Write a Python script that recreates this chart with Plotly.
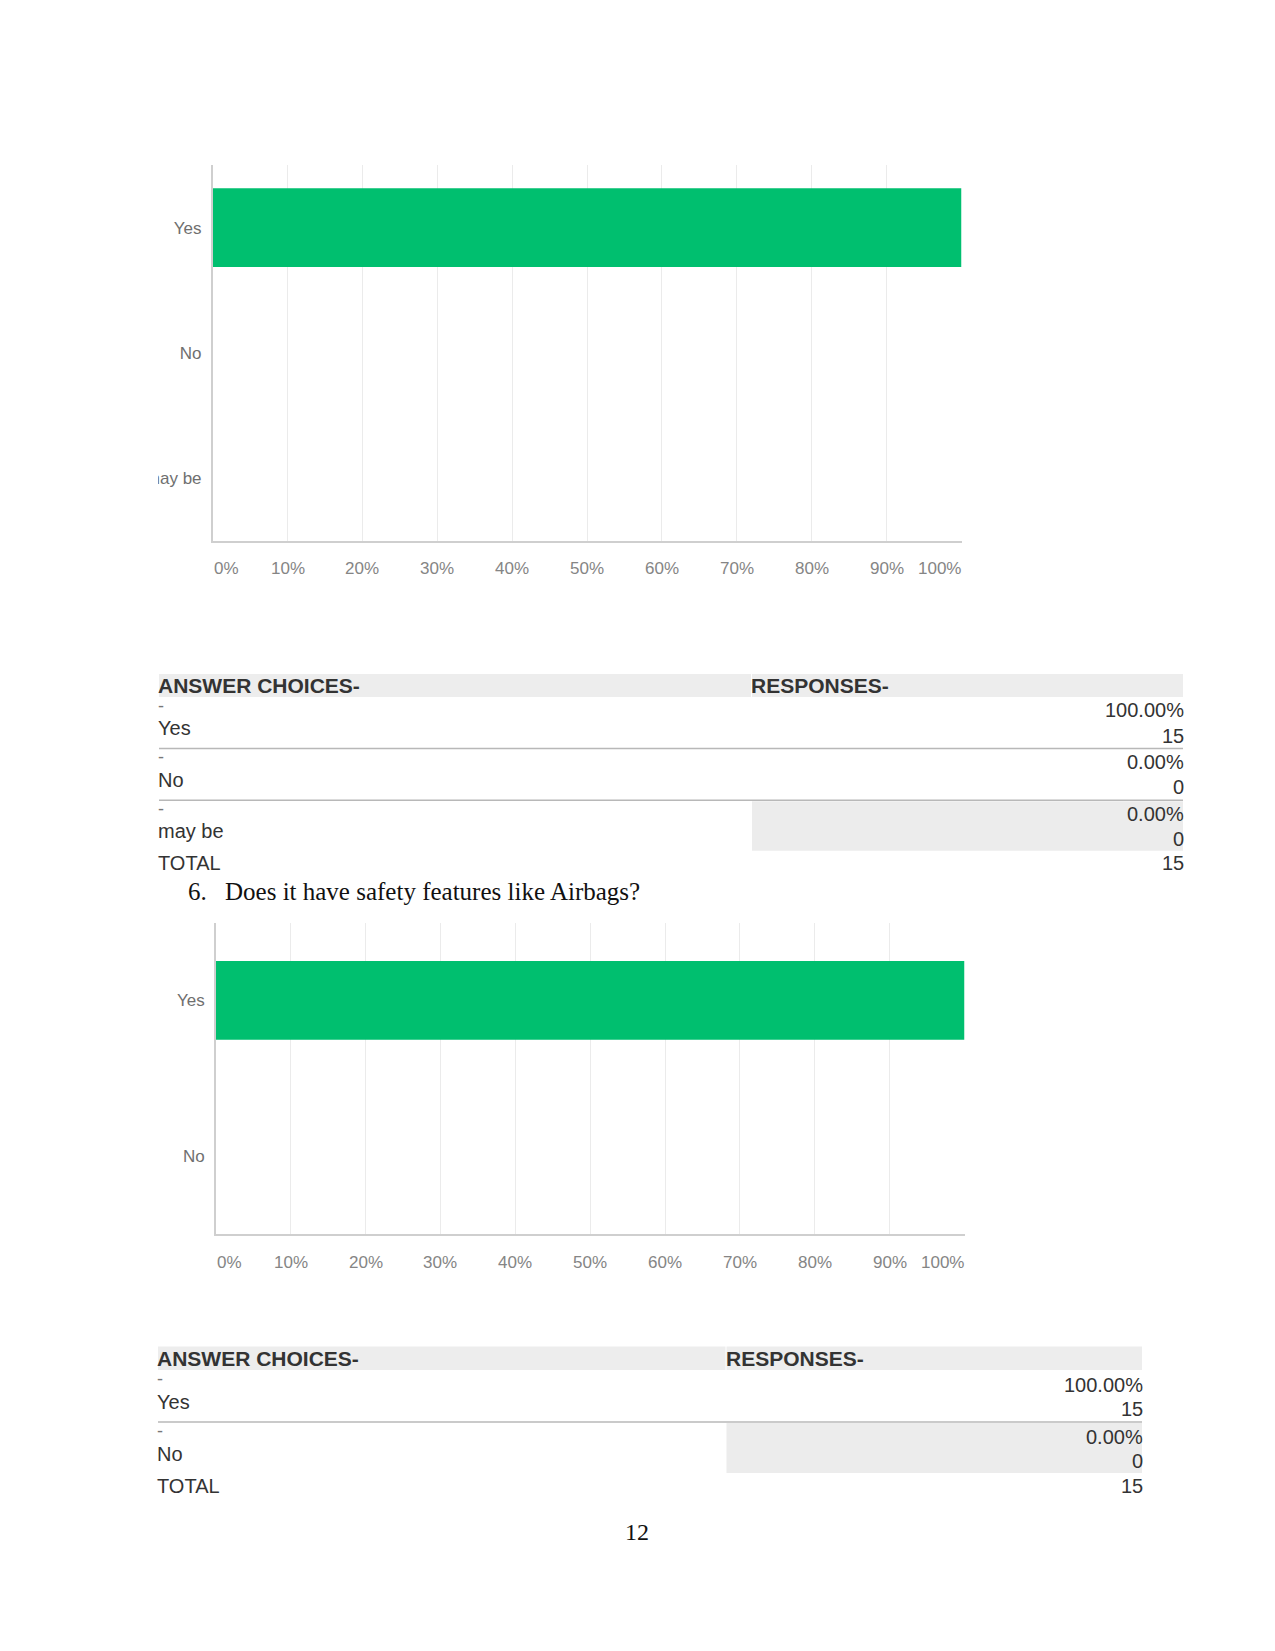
import plotly.graph_objects as go

# ---------------- data ----------------
q1_choices = ["Yes", "No", "may be"]
q1_pct = [100.0, 0.0, 0.0]
q1_counts = [15, 0, 0]
q1_total = 15

q2_question = "Does it have safety features like Airbags?"
q2_number = "6."
q2_choices = ["Yes", "No"]
q2_pct = [100.0, 0.0]
q2_counts = [15, 0]
q2_total = 15

x_ticks = [0, 10, 20, 30, 40, 50, 60, 70, 80, 90, 100]
x_tick_labels = [f"{v}%" for v in x_ticks]
page_number = "12"

header_left = "ANSWER CHOICES-"
header_right = "RESPONSES-"

# ---------------- page geometry helpers ----------------
W, H = 1275, 1651


def px(x):
    return x / W


def py(y):
    return 1 - y / H


GREEN = "#00BF6F"
GRID = "#ebebeb"
AXIS = "#cfcfcf"
TICK_COLOR = "#858585"
CAT_COLOR = "#6f6f6f"
TEXT = "#333333"
SANS = "Liberation Sans, Arial, sans-serif"
SERIF = "Liberation Serif, Times New Roman, serif"

fig = go.Figure()

charts = [
    dict(cats=q1_choices, vals=q1_pct, xa="x", ya="y", left=212.7, right=961.5,
         top=165, bottom=540.5, width=0.63, tick_y=568),
    dict(cats=q2_choices, vals=q2_pct, xa="x2", ya="y2", left=215.8, right=964.5,
         top=922.5, bottom=1234, width=0.506, tick_y=1262),
]

annotations = []
shapes = []

for i, c in enumerate(charts):
    fig.add_trace(go.Bar(
        x=c["vals"], y=c["cats"], orientation="h",
        xaxis=c["xa"], yaxis=c["ya"],
        marker=dict(color=GREEN, line=dict(width=0)),
        width=c["width"], showlegend=False, hoverinfo="x+y",
    ))
    sfx = "" if i == 0 else "2"
    n = len(c["cats"])
    fig.layout["xaxis" + sfx] = dict(
        domain=[px(c["left"]), px(c["right"])],
        anchor="y" + sfx, range=[0, 100],
        tickvals=x_ticks, showticklabels=False,
        showgrid=True, gridcolor=GRID, gridwidth=1.3,
        showline=True, linecolor=AXIS, linewidth=1.5,
        zeroline=False, ticks="", fixedrange=True,
    )
    fig.layout["yaxis" + sfx] = dict(
        domain=[py(c["bottom"]), py(c["top"])],
        anchor="x" + sfx, type="category",
        categoryarray=c["cats"], range=[n - 0.5, -0.5],
        showline=True, linecolor=AXIS, linewidth=1.5,
        showgrid=False, zeroline=False, ticks="",
        ticklabelstandoff=6,
        tickfont=dict(family=SANS, size=17, color=CAT_COLOR),
        fixedrange=True,
    )
    for v, lab in zip(x_ticks, x_tick_labels):
        if v == x_ticks[0]:
            anchor, shift = "left", -1
        elif v == x_ticks[-1]:
            anchor, shift = "right", 1
        else:
            anchor, shift = "center", 0
        annotations.append(dict(
            x=v, xref=c["xa"], y=py(c["tick_y"]), yref="paper",
            text=lab, showarrow=False, xanchor=anchor, yanchor="middle",
            xshift=shift,
            font=dict(family=SANS, size=17, color=TICK_COLOR),
        ))

# clip of the leftmost category label in the first chart (as in screenshot)
shapes.append(dict(type="rect", xref="paper", yref="paper",
                   x0=0, x1=px(158), y0=py(495), y1=py(460),
                   fillcolor="white", line=dict(width=0), layer="above"))


# ---------------- tables ----------------
def add_table(choices, pcts, counts, total, left, right, mid, head_top, head_bot,
              row_h, offs):
    shapes.append(dict(type="rect", xref="paper", yref="paper",
                       x0=px(left), x1=px(mid - 1), y0=py(head_bot), y1=py(head_top),
                       fillcolor="#ededed", line=dict(width=0), layer="below"))
    shapes.append(dict(type="rect", xref="paper", yref="paper",
                       x0=px(mid), x1=px(right), y0=py(head_bot), y1=py(head_top),
                       fillcolor="#ededed", line=dict(width=0), layer="below"))
    hy = (head_top + head_bot) / 2
    lshift, rshift = -3, 3
    annotations.append(dict(x=px(left), y=py(hy), xref="paper", yref="paper",
                            text=f"<b>{header_left}</b>", showarrow=False,
                            xanchor="left", yanchor="middle", xshift=lshift,
                            font=dict(family=SANS, size=21, color=TEXT)))
    annotations.append(dict(x=px(mid), y=py(hy), xref="paper", yref="paper",
                            text=f"<b>{header_right}</b>", showarrow=False,
                            xanchor="left", yanchor="middle", xshift=lshift,
                            font=dict(family=SANS, size=21, color=TEXT)))
    n = len(choices)
    for k, (ch, p, cnt) in enumerate(zip(choices, pcts, counts)):
        top = head_bot + k * row_h
        if k == n - 1:
            shapes.append(dict(type="rect", xref="paper", yref="paper",
                               x0=px(mid), x1=px(right), y0=py(top + row_h - 1),
                               y1=py(top + 1), fillcolor="#ececec",
                               line=dict(width=0), layer="below"))
        else:
            shapes.append(dict(type="line", xref="paper", yref="paper",
                               x0=px(left), x1=px(right), y0=py(top + row_h),
                               y1=py(top + row_h),
                               line=dict(color="#b8b8b8", width=1.5)))
        annotations.append(dict(x=px(left), y=py(top + offs[0]), xref="paper",
                                yref="paper", text="-", showarrow=False,
                                xanchor="left", yanchor="middle", xshift=lshift,
                                font=dict(family=SANS, size=18, color="#777777")))
        annotations.append(dict(x=px(left), y=py(top + offs[1]), xref="paper",
                                yref="paper", text=ch, showarrow=False,
                                xanchor="left", yanchor="middle", xshift=lshift,
                                font=dict(family=SANS, size=20, color=TEXT)))
        annotations.append(dict(x=px(right), y=py(top + offs[2]), xref="paper",
                                yref="paper", text=f"{p:.2f}%", showarrow=False,
                                xanchor="right", yanchor="middle", xshift=rshift,
                                font=dict(family=SANS, size=20, color=TEXT)))
        annotations.append(dict(x=px(right), y=py(top + offs[3]), xref="paper",
                                yref="paper", text=str(cnt), showarrow=False,
                                xanchor="right", yanchor="middle", xshift=rshift,
                                font=dict(family=SANS, size=20, color=TEXT)))
    tot_y = head_bot + n * row_h + offs[4]
    annotations.append(dict(x=px(left), y=py(tot_y), xref="paper", yref="paper",
                            text="TOTAL", showarrow=False, xanchor="left",
                            yanchor="middle", xshift=lshift,
                            font=dict(family=SANS, size=20, color=TEXT)))
    annotations.append(dict(x=px(right), y=py(tot_y), xref="paper", yref="paper",
                            text=str(total), showarrow=False, xanchor="right",
                            yanchor="middle", xshift=rshift,
                            font=dict(family=SANS, size=20, color=TEXT)))


add_table(q1_choices, q1_pct, q1_counts, q1_total,
          left=159, right=1183, mid=752, head_top=674, head_bot=697,
          row_h=51.6, offs=(8.5, 31, 13.5, 38.5, 11))
add_table(q2_choices, q2_pct, q2_counts, q2_total,
          left=158, right=1142, mid=726.5, head_top=1346.5, head_bot=1370,
          row_h=52, offs=(9, 32, 14.5, 38.5, 12))

# question heading
annotations.append(dict(x=px(186), y=py(891), xref="paper", yref="paper",
                        text=q2_number, showarrow=False, xanchor="left",
                        yanchor="middle",
                        font=dict(family=SERIF, size=25, color="#111111")))
annotations.append(dict(x=px(223), y=py(891), xref="paper", yref="paper",
                        text=q2_question, showarrow=False, xanchor="left",
                        yanchor="middle",
                        font=dict(family=SERIF, size=25, color="#111111")))
# page number
annotations.append(dict(x=px(637), y=py(1532), xref="paper", yref="paper",
                        text=page_number, showarrow=False, xanchor="center",
                        yanchor="middle",
                        font=dict(family=SERIF, size=24, color="#111111")))

fig.update_layout(
    width=W, height=H,
    margin=dict(l=0, r=0, t=0, b=0),
    paper_bgcolor="white", plot_bgcolor="white",
    annotations=annotations, shapes=shapes,
    bargap=0.37,
)

fig.write_html("out.html")
